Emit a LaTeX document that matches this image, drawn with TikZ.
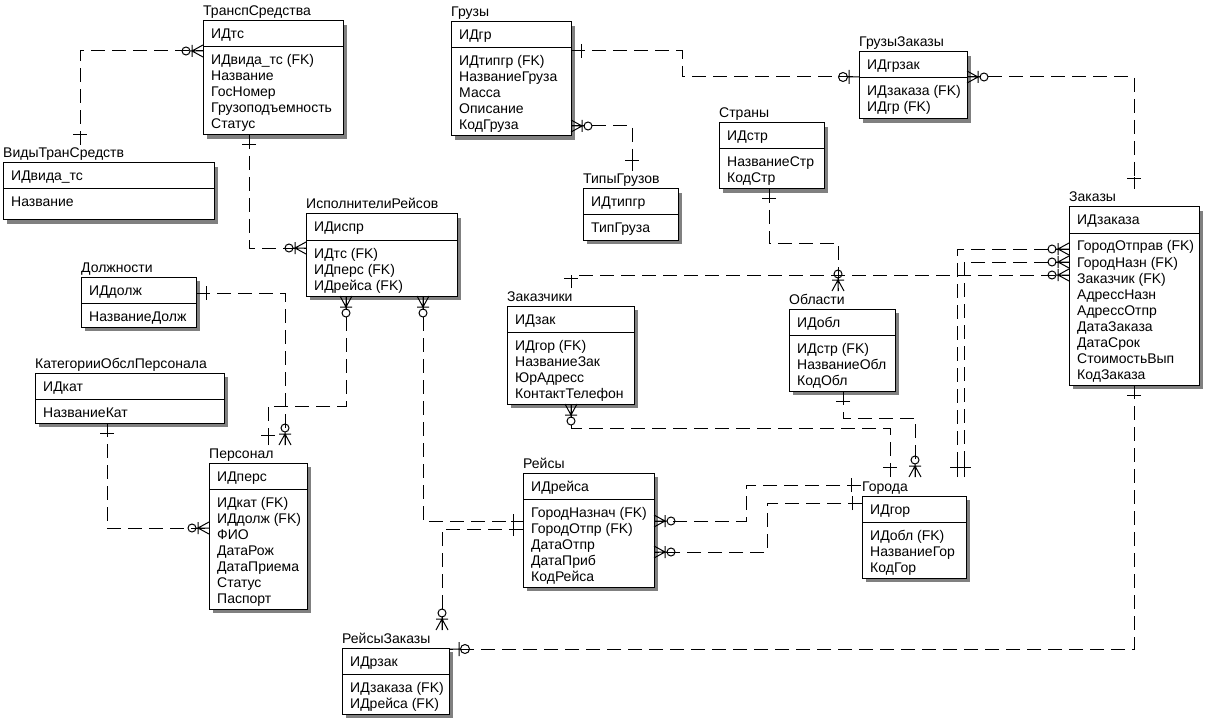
\documentclass[tikz,border=0pt]{standalone}
\usepackage{fontspec}
\setmainfont{Liberation Sans}
\usetikzlibrary{calc}

\tikzset{
    ent/.style={draw, line width=1pt, fill=white, inner sep=0pt, outer sep=0pt, anchor=north west},
    ent shadow/.style={fill=black!50},
    ent text/.style={inner sep=0pt, anchor=base west, font=\fontsize{14}{16}\selectfont},
    rel/.style={draw, line width=1pt, dash pattern=on 14pt off 7pt},
    one/.pic={
    \draw[solid, line width=1pt] (0,0) -- (12,0) (10,-7) -- (10,7);
    },
    zeroone/.pic={
    \draw[solid, line width=1pt] (0,0) -- (12,0) (10,-7) -- (10,7) (16,0) circle (4.5pt);
    },
    zeromany/.pic={
    \draw[solid, line width=1pt] (0,-6) -- (11,0) -- (0,6) (0,0) -- (13,0) (11,-6) -- (11,6) (17,0) circle (4pt);
    },
}

% #1 name, #2 x, #3 y, #4 width, #5 height, #6 title, #7 key, #8 attributes
\newcommand{\entity}[8]{%
  \fill[ent shadow] (#2+4,#3+4) rectangle ++(#4,#5);
  \node[ent, minimum width=#4pt, minimum height=#5pt] (#1) at (#2,#3) {};
  \node[ent text] (#1-title) at ($(#1.north west)+(0,-5)$) {#6};
  \node[ent text] (#1-key) at ($(#1.north west)+(8,18)$) {#7};
  \draw[line width=1pt] ($(#1.north west)+(0,26)$) -- ($(#1.north east)+(0,26)$);
  \foreach \attr [count=\i] in {#8}
    \node[ent text] (#1-\i) at ($(#1.north west)+(8,28+16*\i)$) {\attr};
}

\begin{document}
\begin{tikzpicture}[x=1pt, y=-1pt]
  \useasboundingbox[fill=white] (0,0) rectangle (1207,722);

  \entity{transp}{203}{21}{140}{114}{ТранспСредства}{ИДтс}{ИДвида\_тс (FK), Название, ГосНомер, Грузоподъемность, Статус}
  \entity{vidy}{3}{163}{211}{57}{ВидыТранСредств}{ИДвида\_тс}{Название}
  \entity{gruzy}{451}{22}{120}{114}{Грузы}{ИДгр}{ИДтипгр (FK), НазваниеГруза, Масса, Описание, КодГруза}
  \entity{tipy}{583}{189}{95}{51}{ТипыГрузов}{ИДтипгр}{ТипГруза}
  \entity{gruzzak}{859}{52}{108}{67}{ГрузыЗаказы}{ИДгрзак}{ИДзаказа (FK), ИДгр (FK)}
  \entity{strany}{719}{123}{105}{66}{Страны}{ИДстр}{НазваниеСтр, КодСтр}
  \entity{zakazy}{1069}{207}{130}{178}{Заказы}{ИДзаказа}{ГородОтправ (FK), ГородНазн (FK), Заказчик (FK), АдрессНазн, АдрессОтпр, ДатаЗаказа, ДатаСрок, СтоимостьВып, КодЗаказа}
  \entity{ispoln}{306}{214}{151}{82}{ИсполнителиРейсов}{ИДиспр}{ИДтс (FK), ИДперс (FK), ИДрейса (FK)}
  \entity{dolzh}{81}{277}{115}{50}{Должности}{ИДдолж}{НазваниеДолж}
  \entity{kateg}{35}{373}{189}{50}{КатегорииОбслПерсонала}{ИДкат}{НазваниеКат}
  \entity{zakazch}{507}{306}{127}{98}{Заказчики}{ИДзак}{ИДгор (FK), НазваниеЗак, ЮрАдресс, КонтактТелефон}
  \entity{oblasti}{789}{309}{106}{82}{Области}{ИДобл}{ИДстр (FK), НазваниеОбл, КодОбл}
  \entity{personal}{209}{463}{98}{146}{Персонал}{ИДперс}{ИДкат (FK), ИДдолж (FK), ФИО, ДатаРож, ДатаПриема, Статус, Паспорт}
  \entity{reiszak}{342}{648}{107}{66}{РейсыЗаказы}{ИДрзак}{ИДзаказа (FK), ИДрейса (FK)}
  \entity{reisy}{523}{473}{131}{114}{Рейсы}{ИДрейса}{ГородНазнач (FK), ГородОтпр (FK), ДатаОтпр, ДатаПриб, КодРейса}
  \entity{goroda}{862}{496}{104}{82}{Города}{ИДгор}{ИДобл (FK), НазваниеГор, КодГор}

  % relationships
  \draw[rel] ($(vidy.north west)+(77,-18)$) pic[rotate=90]{one} |- ($(transp.north west)+(0,30)$) pic[rotate=180]{zeromany};
  \draw[rel] ($(transp.south west)+(46,0)$) pic[rotate=-90]{one} |- ($(ispoln.north west)+(0,34)$) pic[rotate=180]{zeromany};
  \draw[rel] ($(gruzy.north east)+(0,29)$) pic{one} -- ++(111,0) |- ($(gruzzak.north west)+(0,25)$) pic[rotate=180]{zeroone};
  \draw[rel] ($(gruzzak.north east)+(0,25)$) pic{zeromany} -| ($(zakazy.north west)+(65,-18)$) pic[rotate=90]{one};
  \draw[rel] ($(gruzy.north east)+(0,104)$) pic{zeromany} -| ($(tipy.north west)+(49,-18)$) pic[rotate=90]{one};
  \draw[rel] ($(strany.south west)+(50,0)$) pic[rotate=-90]{one} -- ++(0,54) -| ($(oblasti.north west)+(49,-18)$) pic[rotate=90]{zeromany};
  \draw[rel] ($(zakazch.north west)+(64,-18)$) pic[rotate=90]{one} |- ($(zakazy.north west)+(0,68)$) pic[rotate=180]{zeromany};
  \draw[rel] ($(zakazy.north west)+(0,42)$) pic[rotate=180]{zeromany} -| ($(goroda.north west)+(95,-19)$) pic[rotate=90]{one};
  \draw[rel] ($(zakazy.north west)+(0,55)$) pic[rotate=180]{zeromany} -| ($(goroda.north west)+(102,-19)$) pic[rotate=90]{one};
  \draw[rel] ($(zakazch.south west)+(64,0)$) pic[rotate=-90]{zeromany} -- ++(0,24) -| ($(goroda.north west)+(28,-19)$) pic[rotate=90]{one};
  \draw[rel] ($(oblasti.south west)+(54,0)$) pic[rotate=-90]{one} -- ++(0,27) -| ($(goroda.north west)+(53,-19)$) pic[rotate=90]{zeromany};
  \draw[rel] ($(goroda.north west)+(-1,-11)$) pic[rotate=180]{one} -- ++(-115,0) |- ($(reisy.north east)+(0,48)$) pic{zeromany};
  \draw[rel] ($(goroda.north west)+(0,7)$) pic[rotate=180]{one} -- ++(-95,0) |- ($(reisy.north east)+(0,79)$) pic{zeromany};
  \draw[rel] ($(ispoln.south west)+(117,0)$) pic[rotate=-90]{zeromany} |- ($(reisy.north west)+(0,48)$) pic[rotate=180]{one};
  \draw[rel] ($(reiszak.north west)+(100,-18)$) pic[rotate=90]{zeromany} |- ($(reisy.north west)+(0,56)$) pic[rotate=180]{one};
  \draw[rel] ($(ispoln.south west)+(40,0)$) pic[rotate=-90]{zeromany} -- ++(0,110) -| ($(personal.north west)+(59,-18)$) pic[rotate=90]{one};
  \draw[rel] ($(dolzh.north east)+(0,16)$) pic{one} -| ($(personal.north west)+(76,-18)$) pic[rotate=90]{zeromany};
  \draw[rel] ($(kateg.south west)+(72,0)$) pic[rotate=-90]{one} |- ($(personal.north west)+(0,65)$) pic[rotate=180]{zeromany};
  \draw[rel] ($(zakazy.south west)+(65,0)$) pic[rotate=-90]{one} |- ($(reiszak.north east)+(0,1)$) pic{zeroone};
\end{tikzpicture}
\end{document}
